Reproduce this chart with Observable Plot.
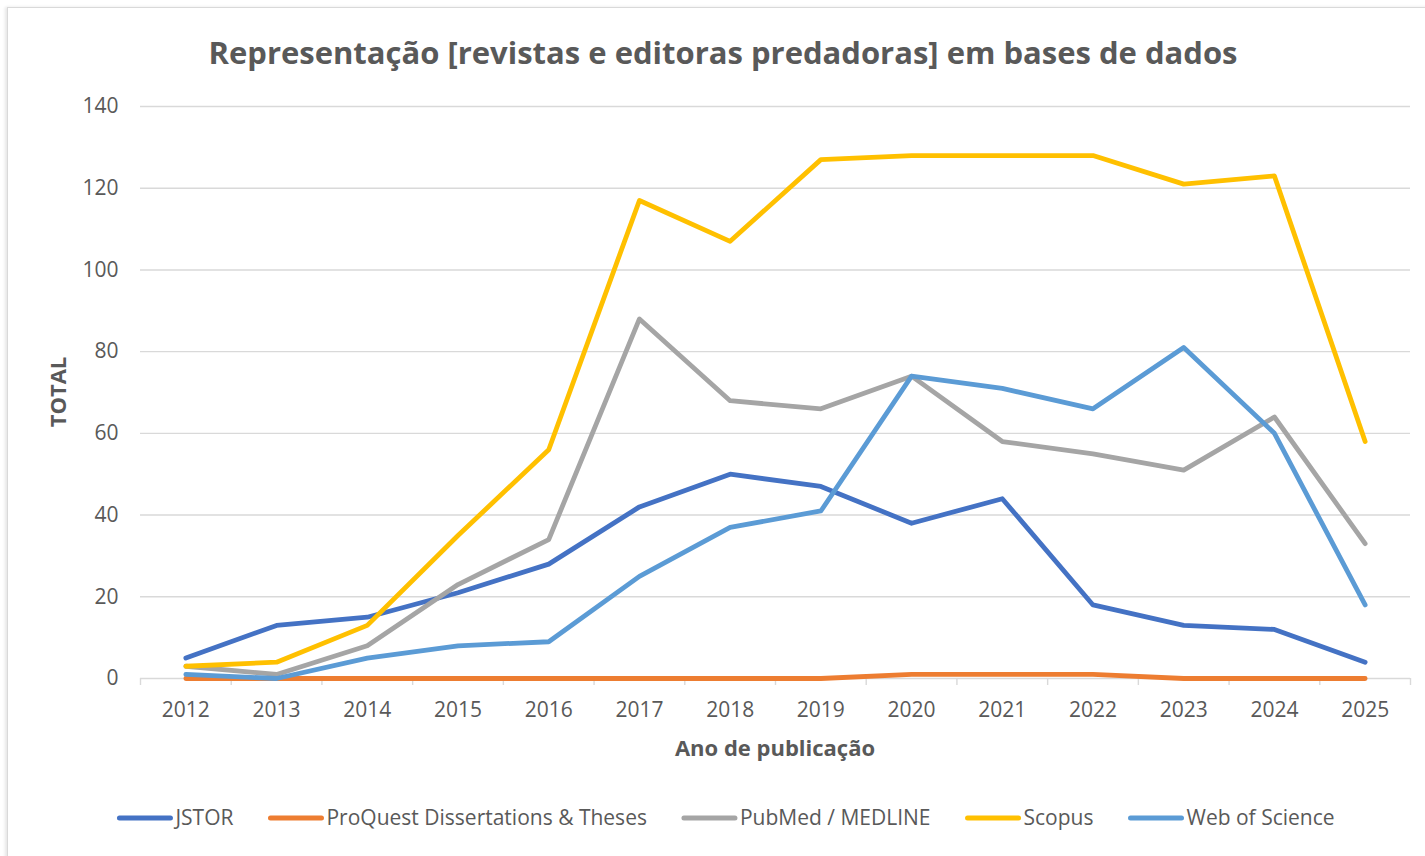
<!DOCTYPE html>
<html><head><meta charset="utf-8">
<script src="https://cdn.jsdelivr.net/npm/d3@7"></script>
<script src="https://cdn.jsdelivr.net/npm/@observablehq/plot@0.6"></script>
<style>
body{margin:0;background:#fff;font-family:"Open Sans",sans-serif;}
#wrap{position:relative;width:1425px;height:856px;overflow:hidden;background:#fff;}
#frame{position:absolute;left:7px;top:7px;width:1440px;height:870px;border:1px solid #d9d9d9;box-shadow:-2px 0 3px rgba(0,0,0,0.10);}
#chart{position:absolute;left:0;top:0;}
#over{position:absolute;left:0;top:0;}
</style></head><body>
<div id="wrap"><div id="frame"></div><div id="chart"></div><svg id="over" width="1425" height="856"></svg></div>
<script>
const years = [2012,2013,2014,2015,2016,2017,2018,2019,2020,2021,2022,2023,2024,2025];
const seriesNames = ["JSTOR","ProQuest Dissertations & Theses","PubMed / MEDLINE","Scopus","Web of Science"];
const jstor    = [5,13,15,21,28,42,50,47,38,44,18,13,12,4];
const proquest = [0,0,0,0,0,0,0,0,1,1,1,0,0,0];
const pubmed   = [3,1,8,23,34,88,68,66,74,58,55,51,64,33];
const scopus   = [3,4,13,35,56,117,107,127,128,128,128,121,123,58];
const wos      = [1,0,5,8,9,25,37,41,74,71,66,81,60,18];
const seriesColors = ["#4472C4","#ED7D31","#A5A5A5","#FFC000","#5B9BD5"];
const yTicks = [0,20,40,60,80,100,120,140];
const titleText = "Representação [revistas e editoras predadoras] em bases de dados";
const xLabel = "Ano de publicação";
const yLabel = "TOTAL";

const values = [jstor, proquest, pubmed, scopus, wos];
const data = seriesNames.flatMap((name, i) => years.map((yr, j) => ({series: name, year: yr, value: values[i][j]})));
const boundaries = years.map(y => y - 0.5).concat([years[years.length - 1] + 0.5]);
const textColor = "#595959";

const plot = Plot.plot({
  width: 1425, height: 856,
  marginLeft: 140, marginRight: 15, marginTop: 106, marginBottom: 178,
  style: {fontFamily: '"Open Sans", sans-serif', fontSize: "21px", color: textColor, background: "transparent"},
  x: {domain: [years[0] - 0.5, years[years.length - 1] + 0.5]},
  y: {domain: [0, 140]},
  color: {domain: seriesNames, range: seriesColors},
  marks: [
    Plot.ruleY(yTicks, {stroke: "#d9d9d9", strokeWidth: 1.4}),
    Plot.axisY({ticks: yTicks, tickSize: 0, tickPadding: 22, label: null}),
    Plot.axisX({ticks: boundaries, tickSize: 7, tickFormat: () => "", stroke: "#d9d9d9", strokeWidth: 1.4, strokeOpacity: 1, label: null}),
    Plot.axisX({ticks: years, tickSize: 0, tickPadding: 24, tickFormat: d => String(d), label: null}),
    Plot.line(data, {x: "year", y: "value", z: "series", stroke: "series", strokeWidth: 4.8, strokeLinejoin: "round", strokeLinecap: "round"})
  ]
});
document.getElementById("chart").append(plot);

const over = d3.select("#over").style("font-family", '"Open Sans", sans-serif');
over.append("text").attr("x", 723).attr("y", 64).attr("text-anchor", "middle")
  .attr("font-size", 31).attr("font-weight", 700).attr("fill", textColor).text(titleText);
over.append("text").attr("transform", "translate(66,392) rotate(-90)").attr("text-anchor", "middle")
  .attr("font-size", 22).attr("font-weight", 700).attr("fill", textColor).text(yLabel);
over.append("text").attr("x", 775).attr("y", 756).attr("text-anchor", "middle")
  .attr("font-size", 22).attr("font-weight", 700).attr("fill", textColor).text(xLabel);

// legend
const lg = over.append("g");
const sw = 55, g1 = 3, gap = 35, ly = 818;
let cx = 0;
seriesNames.forEach((name, i) => {
  const item = lg.append("g").attr("transform", `translate(${cx},0)`);
  item.append("line").attr("x1", 2).attr("x2", sw - 2).attr("y1", ly).attr("y2", ly)
    .attr("stroke", seriesColors[i]).attr("stroke-width", 5).attr("stroke-linecap", "round");
  const t = item.append("text").attr("x", sw + g1).attr("y", ly + 7).attr("font-size", 21)
    .attr("fill", textColor).text(name);
  cx += sw + g1 + t.node().getComputedTextLength() + gap;
});
const total = cx - gap;
lg.attr("transform", `translate(${726 - total / 2},0)`);
</script></body></html>
